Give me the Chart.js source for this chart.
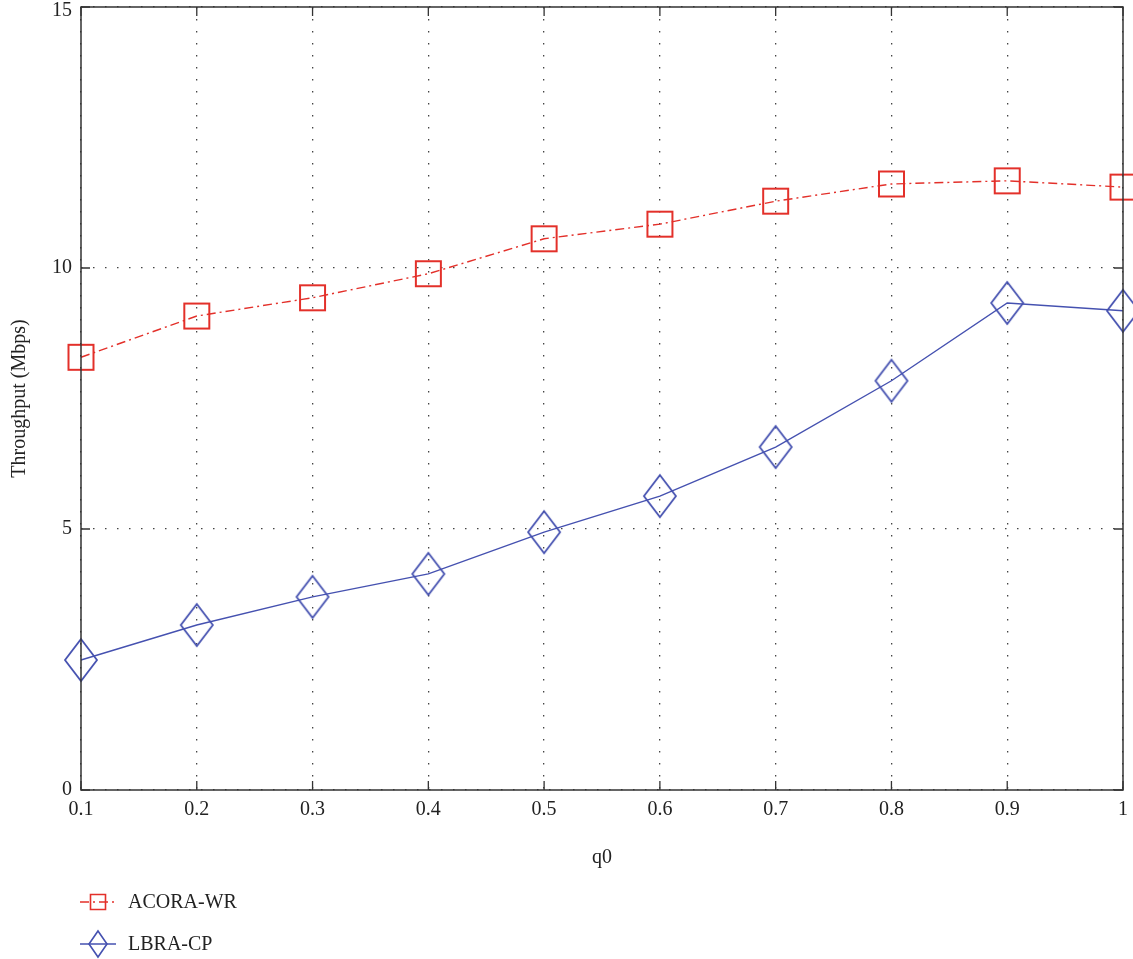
<!DOCTYPE html>
<html>
<head>
<meta charset="utf-8">
<script src="https://cdn.jsdelivr.net/npm/chart.js@4/dist/chart.umd.min.js"></script>
<style>
  html, body { margin: 0; padding: 0; background: #fff; }
  canvas { display: block; }
</style>
</head>
<body>
<canvas id="c" width="1133" height="959"></canvas>
<script>
// q0 values along the x axis
const q0Labels = ['0.1', '0.2', '0.3', '0.4', '0.5', '0.6', '0.7', '0.8', '0.9', '1'];
// Throughput (Mbps) for each routing scheme
const acoraWr = [8.29, 9.08, 9.43, 9.89, 10.56, 10.84, 11.28, 11.61, 11.67, 11.55];
const lbraCp  = [2.49, 3.16, 3.70, 4.14, 4.94, 5.63, 6.57, 7.84, 9.33, 9.18];
const yTicks = [0, 5, 10, 15];

const RED = '#e3302a';
const BLUE = '#4551b0';
const INK = '#222222';
const FONT = '"Liberation Serif", "DejaVu Serif", serif';
const FONT_SIZE = 20;

// Hollow marker sprites
function squareSprite(size, color, lw) {
  const c = document.createElement('canvas');
  c.width = size + 4; c.height = size + 4;
  const g = c.getContext('2d');
  g.strokeStyle = color; g.lineWidth = lw;
  g.strokeRect(2, 2, size, size);
  return c;
}
function diamondSprite(w, h, color, lw) {
  const c = document.createElement('canvas');
  c.width = w + 4; c.height = h + 4;
  const g = c.getContext('2d');
  g.strokeStyle = color; g.lineWidth = lw;
  const cx = c.width / 2, cy = c.height / 2;
  g.beginPath();
  g.moveTo(cx, cy - h / 2); g.lineTo(cx + w / 2, cy);
  g.lineTo(cx, cy + h / 2); g.lineTo(cx - w / 2, cy);
  g.closePath(); g.stroke();
  return c;
}

const RED_DASH = [9, 4, 2, 4];
const GRID_DASH = [1.5, 10.5];
const TOP_TICK = yTicks[yTicks.length - 1];

// Frame, inward tick marks, the top y label and the legend beneath the axes
const framePlugin = {
  id: 'frame',
  afterDraw(chart) {
    const { ctx, chartArea: a, scales } = chart;
    ctx.save();
    ctx.strokeStyle = '#333';
    ctx.lineWidth = 1.5;
    ctx.setLineDash([]);
    ctx.strokeRect(a.left, a.top, a.right - a.left, a.bottom - a.top);
    ctx.lineWidth = 1.3;
    const tl = 9;
    scales.y.ticks.forEach(t => {
      const y = scales.y.getPixelForValue(t.value);
      ctx.beginPath();
      ctx.moveTo(a.left, y); ctx.lineTo(a.left + tl, y);
      ctx.moveTo(a.right, y); ctx.lineTo(a.right - tl, y);
      ctx.stroke();
    });
    scales.x.ticks.forEach((t, i) => {
      const x = scales.x.getPixelForTick(i);
      ctx.beginPath();
      ctx.moveTo(x, a.bottom); ctx.lineTo(x, a.bottom - tl);
      ctx.moveTo(x, a.top); ctx.lineTo(x, a.top + tl);
      ctx.stroke();
    });

    ctx.fillStyle = INK;
    ctx.font = FONT_SIZE + 'px ' + FONT;

    // top y label, nudged down to stay inside the canvas
    ctx.textAlign = 'right';
    ctx.textBaseline = 'middle';
    ctx.fillText(String(TOP_TICK), a.left - 9, scales.y.getPixelForValue(TOP_TICK) + 4);

    // legend
    const items = chart.data.datasets;
    const rows = [902, 944];
    items.forEach((ds, i) => {
      const y = rows[i];
      ctx.strokeStyle = ds.borderColor;
      ctx.lineWidth = ds.borderWidth;
      ctx.setLineDash(ds.borderDash || []);
      ctx.beginPath();
      ctx.moveTo(80, y); ctx.lineTo(116, y);
      ctx.stroke();
      ctx.setLineDash([]);
      ctx.lineWidth = 1.6;
      ctx.beginPath();
      if (i === 0) {
        ctx.rect(98 - 7.5, y - 7.5, 15, 15);
      } else {
        ctx.moveTo(98, y - 13); ctx.lineTo(107, y);
        ctx.lineTo(98, y + 13); ctx.lineTo(89, y);
        ctx.closePath();
      }
      ctx.stroke();
      ctx.textBaseline = 'middle';
      ctx.textAlign = 'left';
      ctx.fillText(ds.label, 128, y + 1);
    });
    ctx.restore();
  }
};

new Chart(document.getElementById('c'), {
  type: 'line',
  data: {
    labels: q0Labels,
    datasets: [
      {
        label: 'ACORA-WR',
        data: acoraWr,
        borderColor: RED,
        borderWidth: 1.4,
        borderDash: RED_DASH,
        pointStyle: squareSprite(25, RED, 2),
        pointRadius: 12,
        tension: 0,
        clip: false
      },
      {
        label: 'LBRA-CP',
        data: lbraCp,
        borderColor: BLUE,
        borderWidth: 1.4,
        pointStyle: diamondSprite(32, 42, BLUE, 1.8),
        pointRadius: 16,
        tension: 0,
        clip: false
      }
    ]
  },
  options: {
    responsive: false,
    animation: false,
    events: [],
    layout: { autoPadding: false, padding: { left: 0, right: 10, top: 7, bottom: 89 } },
    plugins: { legend: { display: false }, tooltip: { enabled: false } },
    scales: {
      x: {
        type: 'category',
        offset: false,
        border: { display: false, dash: GRID_DASH },
        grid: {
          color: '#444',
          lineWidth: 1.3,
          drawTicks: false
        },
        ticks: {
          color: INK,
          font: { family: FONT, size: FONT_SIZE },
          padding: 8,
          maxRotation: 0,
          autoSkip: false
        },
        title: {
          display: true,
          text: 'q0',
          color: INK,
          font: { family: FONT, size: FONT_SIZE },
          padding: { top: 0, bottom: 0 }
        },
        afterFit(s) { s.height = 80; s.paddingLeft = 0; s.paddingRight = 0; }
      },
      y: {
        min: 0,
        max: 15,
        border: { display: false, dash: GRID_DASH },
        grid: {
          color: '#444',
          lineWidth: 1.3,
          drawTicks: false
        },
        afterBuildTicks(s) { s.ticks = yTicks.map(v => ({ value: v })); },
        ticks: {
          color: INK,
          font: { family: FONT, size: FONT_SIZE },
          padding: 9,
          callback: v => (v === TOP_TICK ? '' : String(v))
        },
        title: {
          display: true,
          text: 'Throughput (Mbps)',
          color: INK,
          font: { family: FONT, size: FONT_SIZE },
          padding: { top: 8, bottom: 0 }
        },
        afterFit(s) { s.width = 81; s.paddingTop = 0; s.paddingBottom = 0; }
      }
    }
  },
  plugins: [framePlugin]
});
</script>
</body>
</html>
